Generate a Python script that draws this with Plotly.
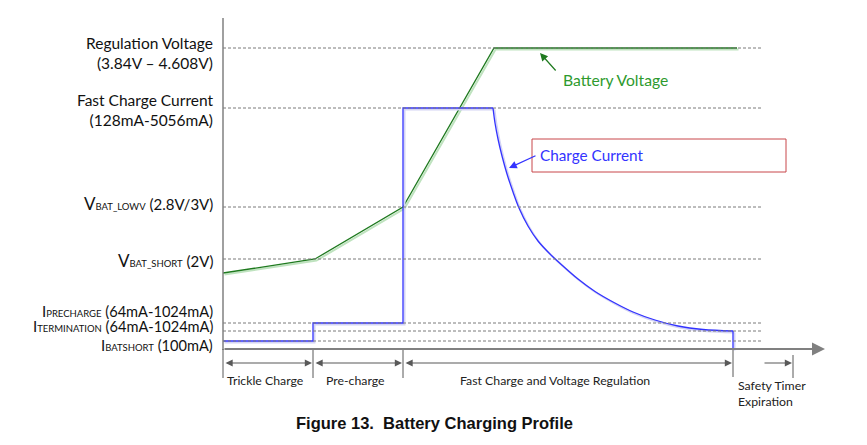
import plotly.graph_objects as go

# ---- data (x: time units, y: level units) ----
phase_bounds = [0, 90, 180, 510, 570]          # trickle, pre-charge, fast/CV, termination, safety timer
level_names = ["Regulation Voltage", "Fast Charge Current", "VBAT_LOWV", "VBAT_SHORT",
               "IPRECHARGE", "ITERMINATION", "IBATSHORT"]
level_values = [301, 241, 142, 90, 26, 18, 8]

volt_t = [0, 92, 180, 271, 514]
volt_v = [76, 90, 142, 301, 301]

# charge current: step section, taper section, termination drop
curr_step_t = [0, 90, 90, 180, 180, 270]
curr_step_v = [8, 8, 26, 26, 241, 241]
curr_taper_t = [270, 272, 275, 279, 284, 290, 296, 305, 315, 327, 340, 355, 372, 390, 410, 432, 455, 480, 510]
curr_taper_v = [241, 226, 210, 193, 175, 157, 141, 123, 108, 95, 83, 70, 57.5, 47, 37, 29, 23, 19.5, 18]
curr_end_t = [510, 510]
curr_end_v = [18, 0]

phase_labels = ["Trickle Charge", "Pre-charge", "Fast Charge and Voltage Regulation"]

FONT = "Lato"
GRAY = "#808080"
DARK = "#595959"
GREEN = "#1f7a1f"
BLUE = "#3333ff"

fig = go.Figure()

# dashed reference levels
for lv in level_values:
    fig.add_shape(type="line", x0=0, x1=540, y0=lv, y1=lv,
                  line=dict(color="#7a7a7a", width=1, dash="3px,2px"))


def add_line(t, v, color, shadow, shape="linear"):
    fig.add_trace(go.Scatter(x=[a + 1.5 for a in t], y=[b - 1.5 for b in v], mode="lines",
                             line=dict(color=shadow, width=2, shape=shape),
                             hoverinfo="skip", showlegend=False))
    fig.add_trace(go.Scatter(x=t, y=v, mode="lines", line=dict(color=color, width=1.3, shape=shape),
                             showlegend=False))


add_line(volt_t, volt_v, GREEN, "#bfe3bf")
add_line(curr_step_t, curr_step_v, BLUE, "#d4d4f4")
add_line(curr_taper_t, curr_taper_v, BLUE, "#d4d4f4", shape="spline")
add_line(curr_end_t, curr_end_v, BLUE, "#d4d4f4")

# axes
fig.add_shape(type="line", x0=0, x1=0, y0=-1, y1=331, line=dict(color=GRAY, width=1.5))
fig.add_annotation(x=602, y=0, ax=0, ay=0, axref="x", ayref="y", xref="x", yref="y", text="",
                   showarrow=True, arrowhead=2, arrowsize=1.3, arrowwidth=2, arrowcolor=GRAY)

# phase ticks
tick_bottom = [-29, -29, -29, -28, -29]
tick_top = [0, 0, 0, 0, -6]
for t, b, tp in zip(phase_bounds, tick_bottom, tick_top):
    fig.add_shape(type="line", x0=t, x1=t, y0=b, y1=tp, line=dict(color=DARK, width=1))

# double arrows between phases
for a, b in zip(phase_bounds[:3], phase_bounds[1:4]):
    fig.add_annotation(x=b - 1, y=-14, ax=a + 1, ay=-14, axref="x", ayref="y", text="",
                       showarrow=True, arrowhead=2, arrowside="end+start", arrowsize=1.2,
                       arrowwidth=1.2, arrowcolor=DARK)
fig.add_annotation(x=phase_bounds[4] - 1, y=-14, ax=540, ay=-14, axref="x", ayref="y", text="",
                   showarrow=True, arrowhead=2, arrowsize=1.2, arrowwidth=1.2, arrowcolor=DARK)

# phase labels
lab_x = [2, 132, 332]
lab_anchor = ["left", "center", "center"]
for txt, x, anc in zip(phase_labels, lab_x, lab_anchor):
    fig.add_annotation(x=x, y=-31, text=txt, showarrow=False, xanchor=anc, yanchor="middle",
                       font=dict(family=FONT, size=12.3, color="#222"))
fig.add_annotation(x=phase_bounds[3] + 3, y=-44, text="Safety Timer<br>Expiration", showarrow=False,
                   xanchor="left", yanchor="middle", align="left",
                   font=dict(family=FONT, size=12.3, color="#222"))

# left level labels
S = '<span style="font-size:9.5px">'
E = '</span>'
left_texts = [
    "Regulation Voltage<br>(3.84V – 4.608V)",
    "Fast Charge Current<br>(128mA-5056mA)",
    f'<span style="font-size:17px">V</span>{S}BAT_LOWV{E} (2.8V/3V)',
    f'<span style="font-size:17px">V</span>{S}BAT_SHORT{E} (2V)',
    f'<span style="font-size:15px">I</span>{S}PRECHARGE{E} (64mA-1024mA)',
    f'<span style="font-size:15px">I</span>{S}TERMINATION{E} (64mA-1024mA)',
    f'<span style="font-size:15px">I</span>{S}BATSHORT{E} (100mA)',
]
left_y = [296, 239, 146, 89, 38.5, 23, 4]
left_size = [15.5, 15.5, 15, 15, 14.6, 14.6, 14.6]
for txt, y, sz in zip(left_texts, left_y, left_size):
    fig.add_annotation(x=-8, y=y, text=txt, showarrow=False, xanchor="right", yanchor="middle",
                       align="right", font=dict(family=FONT, size=sz, color="#111"))

# callouts
fig.add_annotation(x=317, y=296, ax=334, ay=277, axref="x", ayref="y", text="",
                   showarrow=True, arrowhead=2, arrowsize=1.3, arrowwidth=1.2, arrowcolor=GREEN)
fig.add_annotation(x=338, y=269, text="Battery Voltage", showarrow=False, xanchor="left",
                   yanchor="middle", font=dict(family=FONT, size=15.7, color="#2e9a2e"))

fig.add_shape(type="rect", x0=309, x1=563, y0=177, y1=210, line=dict(color="#c8474a", width=1))
fig.add_annotation(x=286, y=181, ax=314, ay=194, axref="x", ayref="y", text="",
                   showarrow=True, arrowhead=2, arrowsize=1.3, arrowwidth=1.2, arrowcolor=BLUE)
fig.add_annotation(x=315, y=194, text="Charge Current", showarrow=False, xanchor="left",
                   yanchor="middle", font=dict(family=FONT, size=15.3, color=BLUE))

# caption
fig.add_annotation(x=211, y=-74, text="<b>Figure 13.  Battery Charging Profile</b>", showarrow=False,
                   xanchor="center", yanchor="middle", font=dict(family="Liberation Sans", size=16.5, color="#111"))

# page has an 8px body margin: size and ranges chosen so 1 unit = 1 px
fig.update_layout(width=859, height=437, margin=dict(l=0, r=0, t=0, b=0),
                  paper_bgcolor="white", plot_bgcolor="white", showlegend=False,
                  xaxis=dict(range=[-215, 644], visible=False, fixedrange=True),
                  yaxis=dict(range=[-96, 341], visible=False, fixedrange=True))

fig.write_html("out.html")
